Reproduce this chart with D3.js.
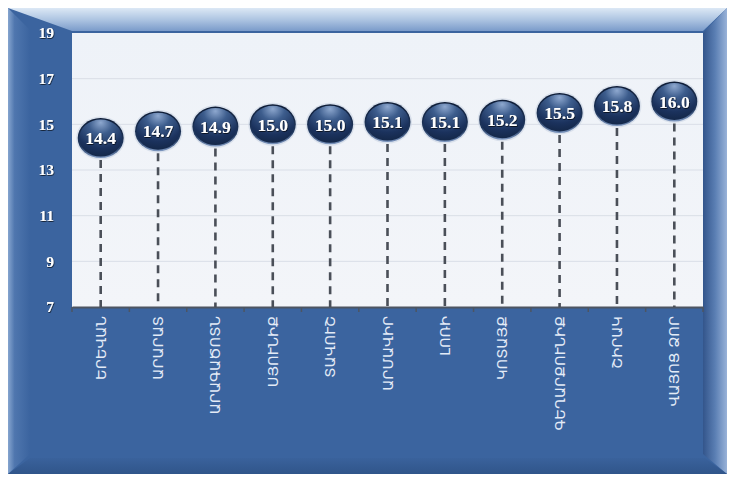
<!DOCTYPE html>
<html><head><meta charset="utf-8">
<script src="https://cdn.jsdelivr.net/npm/d3@7"></script>
<style>html,body{margin:0;padding:0;background:#fff;}svg{display:block;}</style>
</head><body>
<svg id="chart" width="733" height="481"></svg>
<script>
const categories = ["ԵՐԵՎԱՆ","ԱՐԱՐԱՏ","ԱՐԱԳԱԾՈՏՆ","ՍՅՈՒՆԻՔ","ՏԱՎՈՒՇ","ԱՐՄԱՎԻՐ","ԼՈՌԻ","ԿՈՏԱՅՔ","ԳԵՂԱՐՔՈՒՆԻՔ","ՇԻՐԱԿ","ՎԱՅՈՑ ՁՈՐ"];
const values = [14.4,14.7,14.9,15.0,15.0,15.1,15.1,15.2,15.5,15.8,16.0];
const yTicks = [7,9,11,13,15,17,19];

const svg = d3.select("#chart");
const defs = svg.append("defs");
const fx0 = 8, fy0 = 8, fx1 = 727, fy1 = 474;
const plot = {x0: 72, y0: 33, x1: 703, y1: 307};

function lg(id, x1, y1, x2, y2, stops) {
  const g = defs.append("linearGradient").attr("id", id)
    .attr("x1", x1).attr("y1", y1).attr("x2", x2).attr("y2", y2);
  stops.forEach(s => g.append("stop").attr("offset", s[0]).attr("stop-color", s[1]));
}
lg("gTop", 0, 0, 0, 1, [[0, "#dce8f5"], [0.5, "#aec5e2"], [1, "#7a9bca"]]);
lg("gLeft", 0, 0, 1, 0, [[0, "#86a5cf"], [0.3, "#4f76ae"], [1, "#3b649f"]]);
lg("gRight", 0, 0, 1, 0, [[0, "#33558b"], [0.5, "#5a7eb3"], [1, "#98b2d8"]]);
lg("gBottom", 0, 0, 0, 1, [[0, "#3a629c"], [1, "#30558a"]]);
lg("gPlot", 0, 0, 0, 1, [[0, "#eef2f8"], [1, "#f3f5f9"]]);
const rg = defs.append("radialGradient").attr("id", "gBall")
  .attr("cx", 0.5).attr("cy", 0.2).attr("r", 0.85).attr("fx", 0.5).attr("fy", 0.08);
[[0, "#8ea8cf"], [0.32, "#3d5d8d"], [0.72, "#1b325d"], [1, "#132645"]]
  .forEach(s => rg.append("stop").attr("offset", s[0]).attr("stop-color", s[1]));
const rim = defs.append("linearGradient").attr("id", "gRim").attr("x1", 0).attr("y1", 0).attr("x2", 0).attr("y2", 1);
[[0, "#0e1c36"], [0.7, "#20385f"], [1, "#7d97c0"]].forEach(s => rim.append("stop").attr("offset", s[0]).attr("stop-color", s[1]));
const sh = defs.append("filter").attr("id", "ts").attr("x", "-20%").attr("y", "-20%").attr("width", "140%").attr("height", "140%");
sh.append("feDropShadow").attr("dx", 0.6).attr("dy", 0.8).attr("stdDeviation", 0.6).attr("flood-color", "#000").attr("flood-opacity", 0.8);

// frame
svg.append("rect").attr("x", fx0).attr("y", fy0).attr("width", fx1 - fx0).attr("height", fy1 - fy0).attr("fill", "#3b649f");
svg.append("polygon").attr("points", `${fx0},${fy0} ${fx0+22},${fy0+22} ${fx0+22},${fy1-20} ${fx0},${fy1}`).attr("fill", "url(#gLeft)");
svg.append("polygon").attr("points", `${fx1},${fy0} ${fx1},${fy1} ${plot.x1},${fy1-20} ${plot.x1},${plot.y0}`).attr("fill", "url(#gRight)");
svg.append("polygon").attr("points", `${fx0},${fy1} ${fx1},${fy1} ${fx1-22},${fy1-16} ${fx0+22},${fy1-16}`).attr("fill", "url(#gBottom)");
svg.append("polygon").attr("points", `${fx0},${fy0} ${fx1},${fy0} ${plot.x1},${plot.y0-2} ${plot.x0},${plot.y0-2}`).attr("fill", "url(#gTop)");

// plot area
svg.append("rect").attr("x", plot.x0).attr("y", plot.y0).attr("width", plot.x1 - plot.x0).attr("height", plot.y1 - plot.y0).attr("fill", "url(#gPlot)");

const x = d3.scaleBand().domain(categories).range([plot.x0, plot.x1]).padding(0);
const y = d3.scaleLinear().domain([7, 19]).range([plot.y1, plot.y0]);

// gridlines
svg.append("g").selectAll("line").data(yTicks.slice(1, -1)).join("line")
  .attr("x1", plot.x0).attr("x2", plot.x1).attr("y1", d => y(d)).attr("y2", d => y(d))
  .attr("stroke", "#d9dee7").attr("stroke-width", 1);

// y axis labels
const yAxis = d3.axisLeft(y).tickValues(yTicks).tickSize(0).tickPadding(18);
const ya = svg.append("g").attr("transform", `translate(${plot.x0},0)`).call(yAxis);
ya.select(".domain").remove();
ya.selectAll("text").attr("fill", "#ffffff").attr("font-family", "'Liberation Serif', serif")
  .attr("font-weight", "bold").attr("font-size", 15.5).attr("filter", "url(#ts)");

// x axis
const xAxis = d3.axisBottom(x).tickSize(0).tickFormat("");
const xa = svg.append("g").attr("transform", `translate(0,${plot.y1})`).call(xAxis);
xa.select(".domain").attr("stroke", "#4d5562").attr("stroke-width", 2);
svg.append("g").selectAll("line").data(d3.range(categories.length + 1)).join("line")
  .attr("x1", i => plot.x0 + i * x.step()).attr("x2", i => plot.x0 + i * x.step())
  .attr("y1", plot.y1).attr("y2", plot.y1 + 5).attr("stroke", "#4d5562").attr("stroke-width", 1.5);

// category labels
svg.append("g").selectAll("text").data(categories).join("text")
  .attr("transform", d => `translate(${x(d) + x.bandwidth() / 2},${plot.y1 + 9}) rotate(-90)`)
  .attr("text-anchor", "end").attr("dy", "0.35em")
  .attr("fill", "#e3ebf7").attr("font-family", "'DejaVu Sans', sans-serif").attr("font-size", 14.5)
  .text(d => d);

const rx = 23, ry = 20;
// drop lines
svg.append("g").selectAll("line").data(values).join("line")
  .attr("x1", (d, i) => x(categories[i]) + x.bandwidth() / 2)
  .attr("x2", (d, i) => x(categories[i]) + x.bandwidth() / 2)
  .attr("y1", d => y(d) + ry + 2).attr("y2", plot.y1)
  .attr("stroke", "#4a4f58").attr("stroke-width", 2.6).attr("stroke-dasharray", "8,6");

// balls
const balls = svg.append("g").selectAll("g").data(values).join("g")
  .attr("transform", (d, i) => `translate(${x(categories[i]) + x.bandwidth() / 2},${y(d)})`);
balls.append("ellipse").attr("rx", rx + 1.5).attr("ry", ry + 1.5).attr("fill", "#c9d3e3").attr("opacity", 0.6);
balls.append("ellipse").attr("rx", rx).attr("ry", ry).attr("fill", "url(#gRim)");
balls.append("ellipse").attr("rx", rx - 1.5).attr("ry", ry - 1.5).attr("fill", "url(#gBall)");
balls.append("text").attr("text-anchor", "middle").attr("dy", "0.36em")
  .attr("fill", "#ffffff").attr("font-family", "'Liberation Serif', serif").attr("font-weight", "bold")
  .attr("font-size", 17.5).attr("filter", "url(#ts)")
  .text(d => d.toFixed(1));
</script>
</body></html>
